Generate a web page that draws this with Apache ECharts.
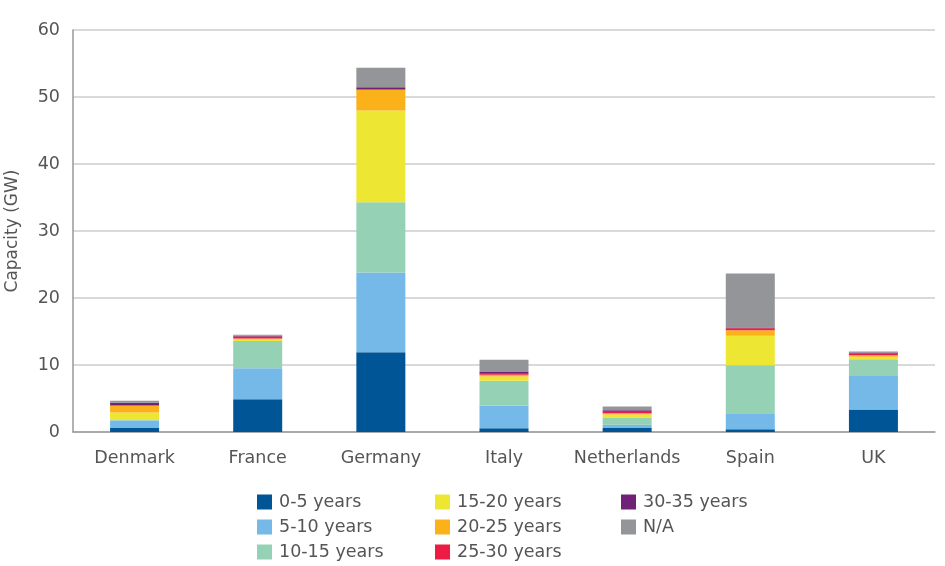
<!DOCTYPE html>
<html>
<head>
<meta charset="utf-8">
<script src="https://cdn.jsdelivr.net/npm/echarts@6/dist/echarts.min.js"></script>
<style>html,body{margin:0;padding:0;background:#fff;}#c{width:945px;height:566px;}</style>
</head>
<body>
<div id="c"></div>
<script>
const countries = ['Denmark','France','Germany','Italy','Netherlands','Spain','UK'];
const seriesNames = ['0-5 years','5-10 years','10-15 years','15-20 years','20-25 years','25-30 years','30-35 years','N/A'];
const y0_5   = [0.6, 4.9, 11.9, 0.55, 0.6, 0.4, 3.35];
const y5_10  = [1.1, 4.6, 11.9, 3.4, 0.5, 2.4, 5.0];
const y10_15 = [0.1, 4.1, 10.5, 3.7, 1.05, 7.15, 2.5];
const y15_20 = [1.1, 0.25, 13.7, 0.65, 0.45, 4.4, 0.4];
const y20_25 = [1.0, 0.1, 3.1, 0.25, 0.2, 0.85, 0.2];
const y25_30 = [0.1, 0.3, 0.1, 0.25, 0.35, 0.3, 0.3];
const y30_35 = [0.35, 0.1, 0.25, 0.15, 0.1, 0.1, 0.1];
const yNA    = [0.3, 0.15, 2.9, 1.85, 0.55, 8.05, 0.15];
const yTicks = [0, 10, 20, 30, 40, 50, 60];
const colors = ['#005596','#74b9e7','#95d1b5','#ede633','#fbb21a','#ed1c45','#6f2277','#939598'];
const values = [y0_5, y5_10, y10_15, y15_20, y20_25, y25_30, y30_35, yNA];

const FONT = 'DejaVu Sans';
const TXT = '#555';
const chart = echarts.init(document.getElementById('c'));
const legendCols = [257, 435, 621];
const legendRows = [493, 518, 543];
const legends = seriesNames.map((n, i) => ({
  orient: 'horizontal', itemWidth: 15, itemHeight: 15, icon: 'rect', padding: 0,
  left: legendCols[Math.floor(i / 3)], top: legendRows[i % 3],
  textStyle: {fontFamily: FONT, fontSize: 17.5, color: TXT, lineHeight: 18, padding: [0, 0, 0, 2]},
  selectedMode: false, data: [n]
}));
chart.setOption({
  animation: false,
  textStyle: {fontFamily: FONT},
  grid: {left: 73, right: 10, top: 30, bottom: 134, containLabel: false, outerBoundsMode: 'none'},
  legend: legends,
  xAxis: {
    type: 'category', data: countries,
    axisLine: {lineStyle: {color: '#999', width: 1.5}},
    axisTick: {show: false},
    axisLabel: {fontFamily: FONT, fontSize: 17.5, color: TXT, margin: 17, interval: 0, hideOverlap: false}
  },
  yAxis: {
    type: 'value', min: 0, max: 60, interval: 10,
    name: 'Capacity (GW)', nameLocation: 'middle', nameGap: 52,
    nameTextStyle: {fontFamily: FONT, fontSize: 17, color: TXT},
    axisLine: {show: true, lineStyle: {color: '#999', width: 1.5}},
    axisTick: {show: false},
    axisLabel: {fontFamily: FONT, fontSize: 17.5, color: TXT, margin: 13,
      formatter: v => yTicks.includes(v) ? String(v) : ''},
    splitLine: {lineStyle: {color: '#ccc', width: 1.5}}
  },
  series: seriesNames.map((n, i) => ({
    name: n, type: 'bar', stack: 'total', barWidth: 49,
    itemStyle: {color: colors[i]}, data: values[i]
  }))
});
</script>
</body>
</html>
